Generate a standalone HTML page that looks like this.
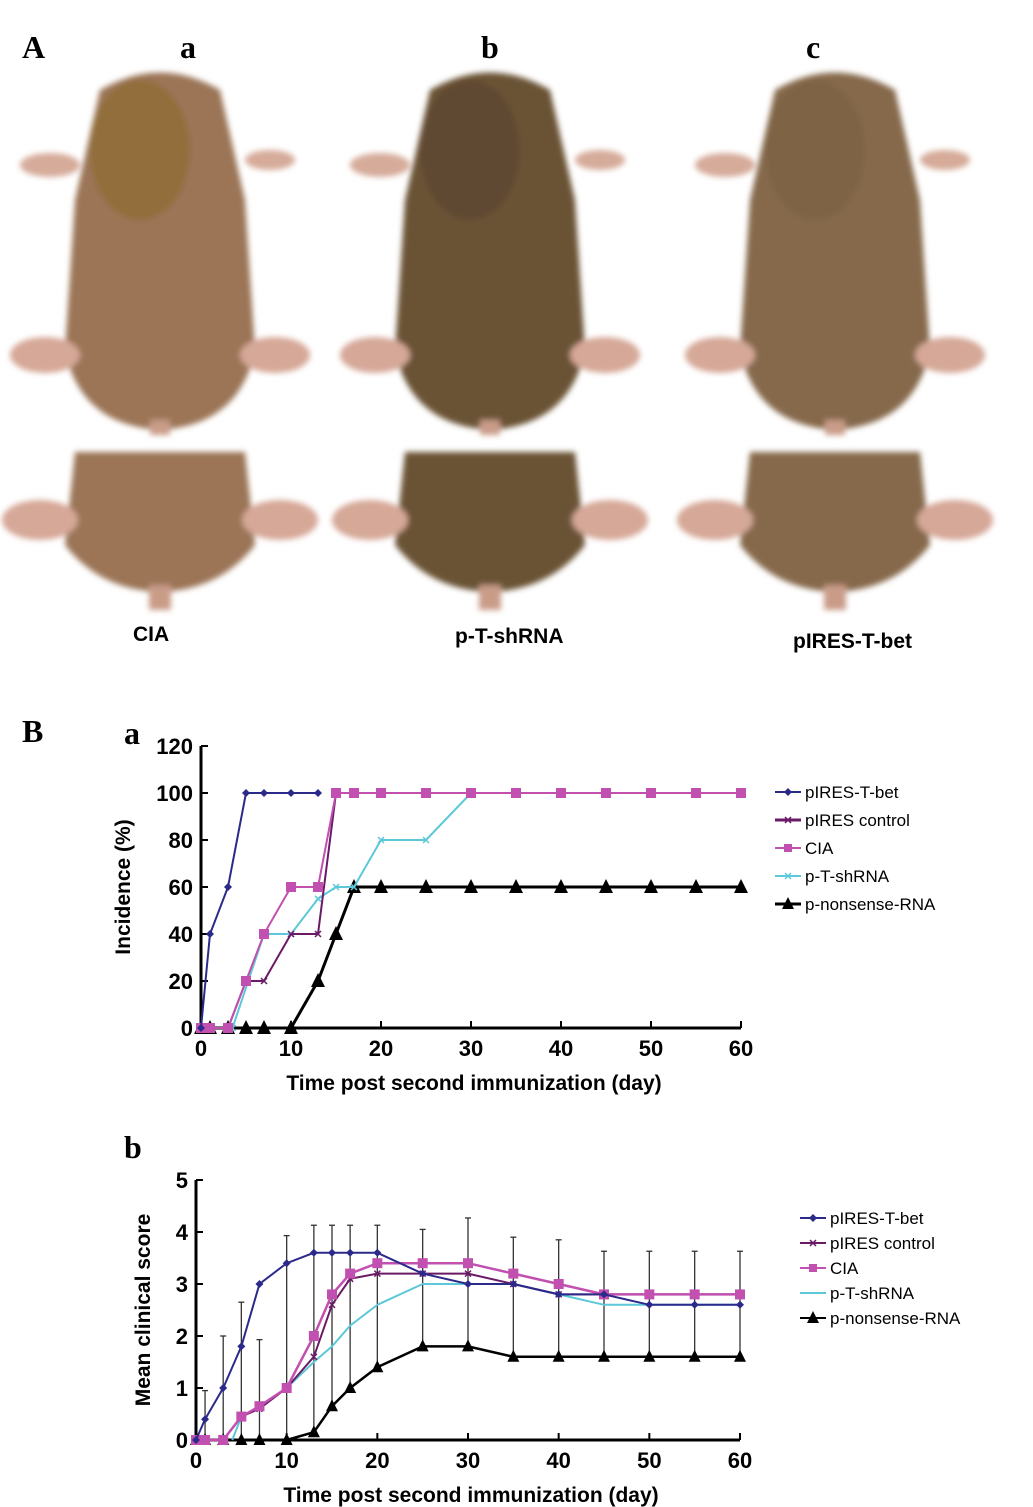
<!DOCTYPE html>
<html><head><meta charset="utf-8"><style>
html,body{margin:0;padding:0;background:#fff;}
#root{position:relative;width:1033px;height:1507px;overflow:hidden;font-family:"Liberation Sans",sans-serif;}
svg{font-family:"Liberation Sans",sans-serif;}
</style></head><body>
<div id="root">
<svg id="photos" width="1033" height="700" style="position:absolute;left:0;top:0">
<defs><filter id="bl"><feGaussianBlur stdDeviation="3"/></filter></defs>
<text x="22" y="58" font-family="Liberation Serif" font-weight="bold" font-size="32">A</text>
<text x="180" y="58" font-family="Liberation Serif" font-weight="bold" font-size="32">a</text>
<text x="481" y="58" font-family="Liberation Serif" font-weight="bold" font-size="32">b</text>
<text x="806" y="58" font-family="Liberation Serif" font-weight="bold" font-size="32">c</text>
<g id="mice" filter="url(#bl)"></g>
<text x="133" y="641" font-weight="bold" font-size="21">CIA</text>
<text x="455" y="643" font-weight="bold" font-size="21">p-T-shRNA</text>
<text x="793" y="648" font-weight="bold" font-size="21">pIRES-T-bet</text>
</svg>
<svg id="cha" width="1033" height="420" style="position:absolute;left:0;top:700"></svg>
<svg id="chb" width="1033" height="387" style="position:absolute;left:0;top:1120"></svg>
</div>
<script>
// ===== Chart a data =====
const aXT=[0,10,20,30,40,50,60];
const aYT=[0,20,40,60,80,100,120];
const aBetX=[0,1,3,5,7,10,13];
const aBetY=[0,40,60,100,100,100,100];
const aCtlX=[0,1,3,5,7,10,13,15,17,20,25,30,35,40,45,50,55,60];
const aCtlY=[0,0,0,20,20,40,40,100,100,100,100,100,100,100,100,100,100,100];
const aCiaX=[0,1,3,5,7,10,13,15,17,20,25,30,35,40,45,50,55,60];
const aCiaY=[0,0,0,20,40,60,60,100,100,100,100,100,100,100,100,100,100,100];
const aShX=[0,3.5,7,10,13,15,17,20,25,30,35,40,45,50,55,60];
const aShY=[0,0,40,40,55,60,60,80,80,100,100,100,100,100,100,100];
const aNoX=[0,1,3,5,7,10,13,15,17,20,25,30,35,40,45,50,55,60];
const aNoY=[0,0,0,0,0,0,20,40,60,60,60,60,60,60,60,60,60,60];
// ===== Chart b data =====
const bXT=[0,10,20,30,40,50,60];
const bYT=[0,1,2,3,4,5];
const bBetX=[0,1,3,5,7,10,13,15,17,20,25,30,35,40,45,50,55,60];
const bBetY=[0,0.4,1,1.8,3,3.4,3.6,3.6,3.6,3.6,3.2,3,3,2.8,2.8,2.6,2.6,2.6];
const bCtlX=[5,7,10,13,15,17,20,25,30,35,40,45,50,55,60];
const bCtlY=[0.45,0.6,1,1.6,2.6,3.1,3.2,3.2,3.2,3,2.8,2.8,2.8,2.8,2.8];
const bCiaX=[0,1,3,5,7,10,13,15,17,20,25,30,35,40,45,50,55,60];
const bCiaY=[0,0,0,0.45,0.65,1,2,2.8,3.2,3.4,3.4,3.4,3.2,3,2.8,2.8,2.8,2.8];
const bShX=[4,5,7,10,13,15,17,20,25,30,35,40,45,50,55,60];
const bShY=[0,0.45,0.65,1,1.5,1.8,2.2,2.6,3,3,3,2.8,2.6,2.6,2.6,2.6];
const bNoX=[0,1,3,5,7,10,13,15,17,20,25,30,35,40,45,50,55,60];
const bNoY=[0,0,0,0,0,0,0.15,0.65,1,1.4,1.8,1.8,1.6,1.6,1.6,1.6,1.6,1.6];
const bErrX=[1,3,5,7,10,13,15,17,20,25,30,35,40,45,50,55,60];
const bErrTop=[0.95,2,2.65,1.93,3.93,4.13,4.13,4.13,4.13,4.05,4.27,3.9,3.85,3.63,3.63,3.63,3.63];
const bErrBot=[0,0,0,0,0,0.15,0.65,1,1.4,1.8,1.8,1.6,1.6,1.6,1.6,1.6,1.6];

const NS="http://www.w3.org/2000/svg";
function mk(p,t,a){const e=document.createElementNS(NS,t);for(const k in a)e.setAttribute(k,a[k]);p.appendChild(e);return e;}

// ===== mice photos =====
const mice=document.getElementById('mice');
const mspec=[{cx:160,c:'#9b7456',h:'#8a6a2a'},{cx:490,c:'#6b5236',h:'#5a4430'},{cx:835,c:'#86694b',h:'#7a6040'}];
mspec.forEach((m,i)=>{
  const g=mk(mice,'g',{});
  
  
  const x=m.cx;
  mk(g,'path',{d:`M${x-60} 90 Q${x} 55 ${x+60} 90 L${x+85} 200 L${x+95} 350 Q${x+80} 425 ${x} 430 Q${x-80} 425 ${x-95} 350 L${x-85} 200 Z`,fill:m.c});
  mk(g,'ellipse',{cx:x-20,cy:150,rx:50,ry:70,fill:m.h,opacity:0.6});
  mk(g,'ellipse',{cx:x-110,cy:165,rx:30,ry:12,fill:'#d6ab9a'});
  mk(g,'ellipse',{cx:x+110,cy:160,rx:25,ry:10,fill:'#d6ab9a'});
  mk(g,'ellipse',{cx:x-115,cy:355,rx:35,ry:18,fill:'#d6a898'});
  mk(g,'ellipse',{cx:x+115,cy:355,rx:35,ry:18,fill:'#d6a898'});
  mk(g,'rect',{x:x-10,y:420,width:20,height:15,fill:'#c99c88'});
  mk(g,'path',{d:`M${x-85} 452 L${x+85} 452 L${x+95} 545 Q${x+60} 590 ${x} 592 Q${x-60} 590 ${x-95} 545 Z`,fill:m.c});
  mk(g,'ellipse',{cx:x-120,cy:520,rx:38,ry:20,fill:'#d6a898'});
  mk(g,'ellipse',{cx:x+120,cy:520,rx:38,ry:20,fill:'#d6a898'});
  mk(g,'rect',{x:x-11,y:585,width:22,height:25,fill:'#c99c88'});
});

// ===== chart builder =====
function axes(svg,X,Y,xt,yt,yTitle,yTitleX,yTitleY){
  const ax=mk(svg,'g',{});
  
  
  const x0=X(xt[0]),x1=X(xt[xt.length-1]),y0=Y(yt[0]),y1=Y(yt[yt.length-1]);
  mk(ax,'line',{x1:x0,y1:y0,x2:x0,y2:y1,stroke:'#000','stroke-width':3});
  mk(ax,'line',{x1:x0,y1:y0,x2:x1,y2:y0,stroke:'#000','stroke-width':3});
  yt.forEach(v=>{mk(ax,'line',{x1:x0,y1:Y(v),x2:x0+7,y2:Y(v),stroke:'#000','stroke-width':2});
    const t=mk(ax,'text',{x:x0-8,y:Y(v)+8,'text-anchor':'end','font-size':22,'font-weight':'bold'});t.textContent=v;
    });
  xt.forEach(v=>{mk(ax,'line',{x1:X(v),y1:y0,x2:X(v),y2:y0-7,stroke:'#000','stroke-width':2});
    const t=mk(ax,'text',{x:X(v),y:y0+28,'text-anchor':'middle','font-size':22,'font-weight':'bold'});t.textContent=v;
    });
  const yt2=mk(ax,'text',{x:yTitleX,y:yTitleY,'text-anchor':'middle','font-size':21,'font-weight':'bold',transform:`rotate(-90 ${yTitleX} ${yTitleY})`});
  yt2.textContent=yTitle;
  
  const xtl=mk(ax,'text',{x:(x0+x1)/2+3,y:y0+62,'text-anchor':'middle','font-size':21,'font-weight':'bold'});
  xtl.textContent='Time post second immunization (day)';
  
}
function marker(g,type,x,y,c,s){
  if(type==='diamond')mk(g,'path',{d:`M${x} ${y-s} L${x+s} ${y} L${x} ${y+s} L${x-s} ${y}Z`,fill:c});
  else if(type==='square')mk(g,'rect',{x:x-s,y:y-s,width:2*s,height:2*s,fill:c});
  else if(type==='tri')mk(g,'path',{d:`M${x} ${y-s-1} L${x+s} ${y+s-1} L${x-s} ${y+s-1}Z`,fill:c});
  else if(type==='x'){mk(g,'path',{d:`M${x-s} ${y-s}L${x+s} ${y+s}M${x+s} ${y-s}L${x-s} ${y+s}`,stroke:c,'stroke-width':1.5});}
}
function series(svg,name,xs,ys,X,Y,c,w,type,s){
  const g=mk(svg,'g',{});
  
  
  mk(g,'polyline',{points:xs.map((v,i)=>X(v)+','+Y(ys[i])).join(' '),fill:'none',stroke:c,'stroke-width':w});
  if(type)xs.forEach((v,i)=>marker(g,type,X(v),Y(ys[i]),c,s));
}
function legend(svg,items,lx,ly,dy,fs){
  items.forEach((it,i)=>{
    const g=mk(svg,'g',{});
    
    
    const y=ly+i*dy;
    mk(g,'line',{x1:lx,y1:y,x2:lx+26,y2:y,stroke:it.c,'stroke-width':it.w});
    if(it.t)marker(g,it.t,lx+13,y,it.c,it.s);
    const t=mk(g,'text',{x:lx+30,y:y+6,'font-size':fs});t.textContent=it.n;
  });
}
const C={bet:'#2b2a8a',ctl:'#6a1a66',cia:'#c150b0',sh:'#5cc8d8',no:'#000'};

const sa=document.getElementById('cha');
const XA=v=>201+v*(741-201)/60, YA=v=>328-v*(328-46)/120;
const lbl=(svg,t,x,y)=>{const e=mk(svg,'text',{x:x,y:y,'font-family':'Liberation Serif','font-weight':'bold','font-size':32});e.textContent=t;};
lbl(sa,'B',22,42);lbl(sa,'a',124,44);
axes(sa,XA,YA,aXT,aYT,'Incidence (%)',130,187);
series(sa,'series-p-nonsense-rna',aNoX,aNoY,XA,YA,C.no,3,'tri',7);
series(sa,'series-p-t-shrna',aShX,aShY,XA,YA,C.sh,2,'x',3);
series(sa,'series-pires-control',aCtlX,aCtlY,XA,YA,C.ctl,2,'x',3);
series(sa,'series-cia',aCiaX,aCiaY,XA,YA,C.cia,2,'square',5);
series(sa,'series-pires-t-bet',aBetX,aBetY,XA,YA,C.bet,2,'diamond',4);
legend(sa,[{n:'pIRES-T-bet',c:C.bet,w:2,t:'diamond',s:4},{n:'pIRES control',c:C.ctl,w:3,t:'x',s:3},{n:'CIA',c:C.cia,w:2,t:'square',s:4},{n:'p-T-shRNA',c:C.sh,w:2,t:'x',s:3},{n:'p-nonsense-RNA',c:C.no,w:3,t:'tri',s:6}],775,92,28,17);

const sb=document.getElementById('chb');
const XB=v=>196+v*(740-196)/60, YB=v=>320-v*(320-60)/5;
lbl(sb,'b',124,38);
axes(sb,XB,YB,bXT,bYT,'Mean clinical score',150,190);
const eg=mk(sb,'g',{});


bErrX.forEach((v,i)=>{const x=XB(v);
  mk(eg,'line',{x1:x,y1:YB(bErrBot[i]),x2:x,y2:YB(bErrTop[i]),stroke:'#333','stroke-width':1.3});
  mk(eg,'line',{x1:x-3,y1:YB(bErrTop[i]),x2:x+3,y2:YB(bErrTop[i]),stroke:'#333','stroke-width':1.3});});
series(sb,'series-p-nonsense-rna',bNoX,bNoY,XB,YB,C.no,2.5,'tri',6);
series(sb,'series-p-t-shrna',bShX,bShY,XB,YB,C.sh,2,null,0);
series(sb,'series-pires-control',bCtlX,bCtlY,XB,YB,C.ctl,2,'x',3);
series(sb,'series-cia',bCiaX,bCiaY,XB,YB,C.cia,2.5,'square',5);
series(sb,'series-pires-t-bet',bBetX,bBetY,XB,YB,C.bet,2,'diamond',4);
legend(sb,[{n:'pIRES-T-bet',c:C.bet,w:2,t:'diamond',s:4},{n:'pIRES control',c:C.ctl,w:2,t:'x',s:3},{n:'CIA',c:C.cia,w:2,t:'square',s:4},{n:'p-T-shRNA',c:C.sh,w:2,t:null,s:0},{n:'p-nonsense-RNA',c:C.no,w:2,t:'tri',s:6}],800,98,25,17);
</script>
</body></html>
